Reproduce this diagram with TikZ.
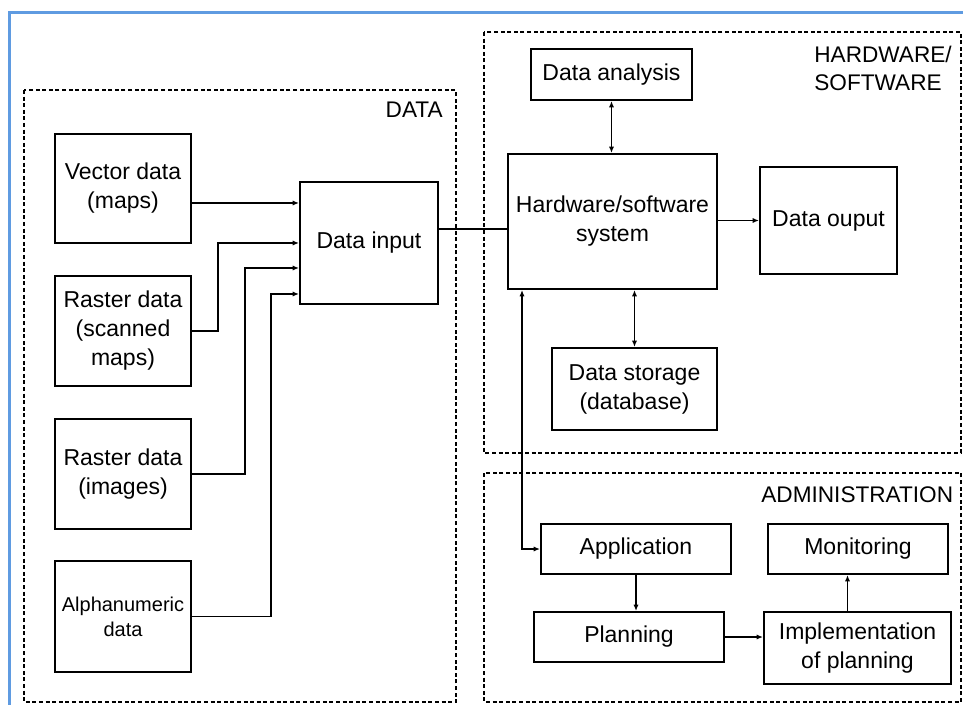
\documentclass[tikz,border=0pt]{standalone}
\usepackage{fontspec}
\setmainfont{Liberation Sans}
\usetikzlibrary{arrows.meta}
\definecolor{framecol}{RGB}{95,155,225}
\begin{document}
\begin{tikzpicture}[
		x=0.5pt, y=-0.5pt,
		every node/.style={font=\fontsize{11.5}{14.5}\selectfont},
		box/.style={draw, line width=1pt, inner sep=0pt, align=center},
		group/.style={draw, line width=0.9pt, dash pattern=on 2pt off 1.3pt},
		lbl/.style={inner sep=0pt, align=left, font=\fontsize{11.3}{14}\selectfont},
		conn/.style={line width=0.8pt},
		>={Latex[length=3.2pt,width=2.6pt]}
	]
		\useasboundingbox (0,0) rectangle (963,705);
		\draw[framecol, line width=1.1pt] (963,12.5) -- (9.5,12.5) -- (9.5,705);
		% groups
		\draw[group] (24,90) rectangle (456,702);
		\draw[group] (484,32) rectangle (961,453);
		\draw[group] (484,473) rectangle (961,702);
		\node[lbl, anchor=east] (tdata) at (443,110) {DATA};
		\node[lbl, anchor=north west] (thw) at (814,46) {HARDWARE/\\SOFTWARE};
		\node[lbl, anchor=west] (tadm) at (761,495) {ADMINISTRATION};
		% data sources
		\node[box, minimum width=68pt, minimum height=54.5pt] (vec) at (123,188.5) {Vector data\\(maps)};
		\node[box, minimum width=68pt, minimum height=55pt] (scan) at (123,331) {Raster data\\(scanned\\maps)};
		\node[box, minimum width=68pt, minimum height=55pt] (img) at (123,474) {Raster data\\(images)};
		\node[box, minimum width=68pt, minimum height=55.5pt, font=\fontsize{10}{12.5}\selectfont] (alpha) at (123,616.5) {Alphanumeric\\data};
		\node[box, minimum width=69pt, minimum height=61pt] (input) at (369,243) {Data input};
		% hardware/software
		\node[box, minimum width=104.5pt, minimum height=67.5pt] (hw) at (612.5,221.5) {Hardware/software\\system};
		\node[box, minimum width=80.5pt, minimum height=25.5pt] (ana) at (611.5,74.5) {Data analysis};
		\node[box, minimum width=68.5pt, minimum height=53.5pt] (out) at (828.5,220.5) {Data ouput};
		\node[box, minimum width=82.5pt, minimum height=41pt] (stor) at (634.5,389) {Data storage\\(database)};
		% administration
		\node[box, minimum width=95pt, minimum height=25pt] (app) at (636,549) {Application};
		\node[box, minimum width=95pt, minimum height=25pt] (plan) at (629,637) {Planning};
		\node[box, minimum width=90pt, minimum height=25pt] (mon) at (858,549) {Monitoring};
		\node[box, minimum width=93.5pt, minimum height=36pt] (impl) at (857.5,648) {Implementation\\of planning};
		% connectors
		\coordinate (in1) at ([yshift=20pt]input.west);
		\coordinate (in3) at ([yshift=-12.5pt]input.west);
		\coordinate (in4) at ([yshift=-25.5pt]input.west);
		\draw[conn, ->] (vec.east |- in1) -- (in1);
		\draw[conn, ->] (scan.east) -- ++(26,0) |- (input.west);
		\draw[conn, ->] (img.east) -- ++(53,0) |- (in3);
		\draw[conn, ->] (alpha.east) -- ++(79,0) |- (in4);
		\draw[conn] ([yshift=7pt]input.east) coordinate (link) -- (link -| hw.west);
		\draw[conn, <->] (ana.south) -- (ana.south |- hw.north);
		\draw[conn, ->] (hw.east |- out.west) -- (out.west);
		\draw[conn, <->] (stor.north |- hw.south) -- (stor.north);
		\draw[conn, <->] ([xshift=7.5pt]hw.south west) |- (app.west);
		\draw[conn, ->] (app.south) -- (app.south |- plan.north);
		\draw[conn, ->] (plan.east) -- (plan.east -| impl.west);
		\draw[conn, ->] ([xshift=-5pt]impl.north) -- ([xshift=-5pt]impl.north |- mon.south);
	\end{tikzpicture}
\end{document}
